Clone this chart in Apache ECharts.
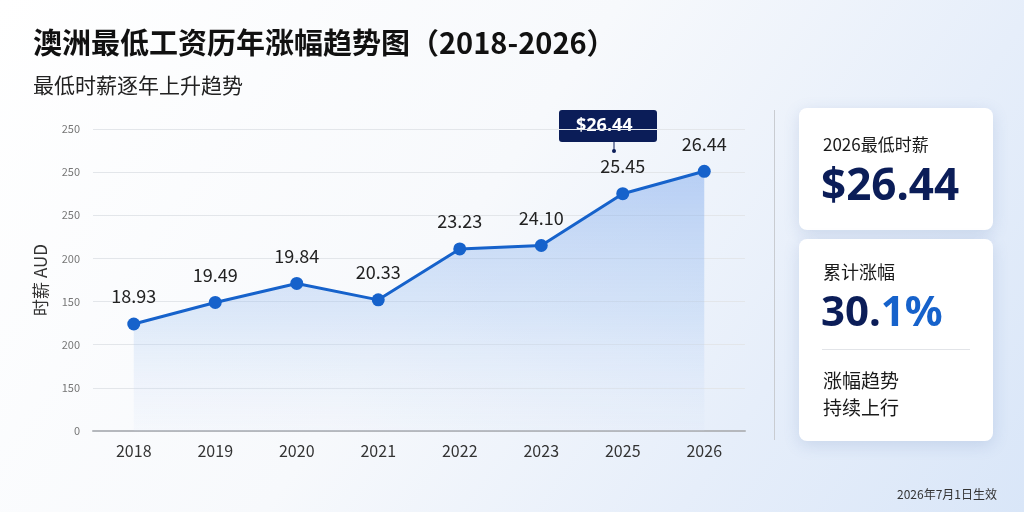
<!DOCTYPE html>
<html>
<head>
<meta charset="utf-8">
<script src="https://cdn.jsdelivr.net/npm/echarts@6/dist/echarts.min.js"></script>
<style>
  html, body { margin: 0; padding: 0; }
  body {
    width: 1024px; height: 512px; overflow: hidden;
    background: linear-gradient(125deg, #ffffff 0%, #f7f9fc 45%, #e6eefa 75%, #d9e6f8 100%);
  }
  #chart { width: 1024px; height: 512px; }
</style>
</head>
<body>
<div id="chart"></div>
<script>
// 年份
var years = ['2018', '2019', '2020', '2021', '2022', '2023', '2025', '2026']
// 点在纵轴上的高度（按图中位置读取）
var plotHeights = [124, 149, 171, 152, 211, 215, 275, 301]
// 点上显示的时薪
var wageLabels = ['18.93', '19.49', '19.84', '20.33', '23.23', '24.10', '25.45', '26.44']
// 纵轴刻度文字（自下而上）
var yTickLabels = ['0', '150', '200', '150', '200', '250', '250', '250']

var font = '"Noto Sans CJK SC", "Noto Sans", sans-serif'
var numFont = '"Noto Sans", "Noto Sans CJK SC", sans-serif'
var navy = '#0b1d58', blue = '#1662cb'

var chart = echarts.init(document.getElementById('chart'), null, { renderer: 'canvas' })

var seriesData = plotHeights.map(function (v, i) {
  return { value: v, label: { formatter: wageLabels[i] } }
})

var option = {
  backgroundColor: 'transparent',
  textStyle: { fontFamily: font },
  title: [{
    text: '澳洲最低工资历年涨幅趋势图（2018-2026）',
    left: 28, top: 23,
    textStyle: { fontSize: 29, fontWeight: 'bold', color: '#111', fontFamily: font }
  }, {
    text: '最低时薪逐年上升趋势',
    left: 28, top: 70,
    textStyle: { fontSize: 21, fontWeight: 'normal', color: '#222', fontFamily: font }
  }],
  grid: { left: 93, right: 279, top: 129, bottom: 81 },
  xAxis: {
    type: 'category',
    data: years,
    boundaryGap: true,
    axisLine: { lineStyle: { color: '#b5b8bd', width: 2 } },
    axisTick: { alignWithLabel: true, length: 5, lineStyle: { color: '#9a9da2' } },
    axisLabel: { fontSize: 16, color: '#333', margin: 12, fontFamily: font }
  },
  yAxis: {
    type: 'value',
    min: 0, max: 350, interval: 50,
    name: '时薪 AUD',
    nameLocation: 'middle',
    nameGap: 44,
    nameTextStyle: { fontSize: 17, color: '#333', fontFamily: font },
    axisLine: { show: false },
    axisTick: { show: false },
    axisLabel: {
      fontSize: 11, color: '#777', margin: 13, fontFamily: font,
      formatter: function (v) { return yTickLabels[Math.round(v / 50)] }
    },
    splitLine: { lineStyle: { color: '#e3e6ea', width: 1 } }
  },
  series: [{
    type: 'line',
    data: seriesData,
    symbol: 'circle',
    symbolSize: 13,
    lineStyle: { color: blue, width: 3 },
    itemStyle: { color: blue },
    label: {
      show: true, position: 'top', distance: 12,
      fontSize: 18, color: '#222', fontFamily: font
    },
    areaStyle: {
      color: new echarts.graphic.LinearGradient(0, 0, 0, 1, [
        { offset: 0, color: 'rgba(110, 158, 235, 0.62)' },
        { offset: 0.55, color: 'rgba(150, 188, 240, 0.42)' },
        { offset: 1, color: 'rgba(215, 228, 250, 0.15)' }
      ])
    },
    z: 3
  }],
  graphic: [
    // 标注框
    { type: 'rect', left: 559, top: 110, shape: { width: 98, height: 32, r: 3 },
      style: { fill: navy } },
    { type: 'text', left: 576, top: 117,
      style: { text: '$26.44', fill: '#fff', font: 'bold 18px ' + numFont } },
    { type: 'line', shape: { x1: 614, y1: 142, x2: 614, y2: 150 },
      style: { stroke: navy, lineWidth: 1 } },
    { type: 'circle', shape: { cx: 614, cy: 151, r: 2 }, style: { fill: navy } },
    // 分隔线
    { type: 'line', shape: { x1: 774.5, y1: 110, x2: 774.5, y2: 440 },
      style: { stroke: '#c9ccd1', lineWidth: 1 } },
    // 卡片一
    { type: 'rect', shape: { x: 799, y: 108, width: 194, height: 122, r: 8 },
      style: { fill: '#fff', shadowBlur: 16, shadowColor: 'rgba(80,110,170,0.18)', shadowOffsetY: 4 } },
    { type: 'text', left: 823, top: 136,
      style: { text: '2026最低时薪', fill: '#1a1a1a', font: '17px ' + font } },
    { type: 'text', left: 821, top: 165,
      style: { text: '$26.44', fill: navy, font: 'bold 44px ' + numFont } },
    // 卡片二
    { type: 'rect', shape: { x: 799, y: 239, width: 194, height: 202, r: 8 },
      style: { fill: '#fff', shadowBlur: 16, shadowColor: 'rgba(80,110,170,0.18)', shadowOffsetY: 4 } },
    { type: 'text', left: 823, top: 263,
      style: { text: '累计涨幅', fill: '#1a1a1a', font: '18px ' + font } },
    { type: 'text', left: 821, top: 293,
      style: {
        text: '{a|30.}{b|1%}',
        rich: {
          a: { fill: navy, fontFamily: numFont, fontSize: 42, fontWeight: 'bold' },
          b: { fill: blue, fontFamily: numFont, fontSize: 42, fontWeight: 'bold' }
        }
      } },
    { type: 'line', shape: { x1: 822, y1: 349.5, x2: 970, y2: 349.5 },
      style: { stroke: '#e2e4e8', lineWidth: 1 } },
    { type: 'text', left: 823, top: 367,
      style: { text: '涨幅趋势\n持续上行', fill: '#1a1a1a', font: '19px ' + font, lineHeight: 27 } },
    // 脚注
    { type: 'text', right: 27, top: 488,
      style: { text: '2026年7月1日生效', fill: '#333', font: '12px ' + font } }
  ]
}

chart.setOption(option)
</script>
</body>
</html>
